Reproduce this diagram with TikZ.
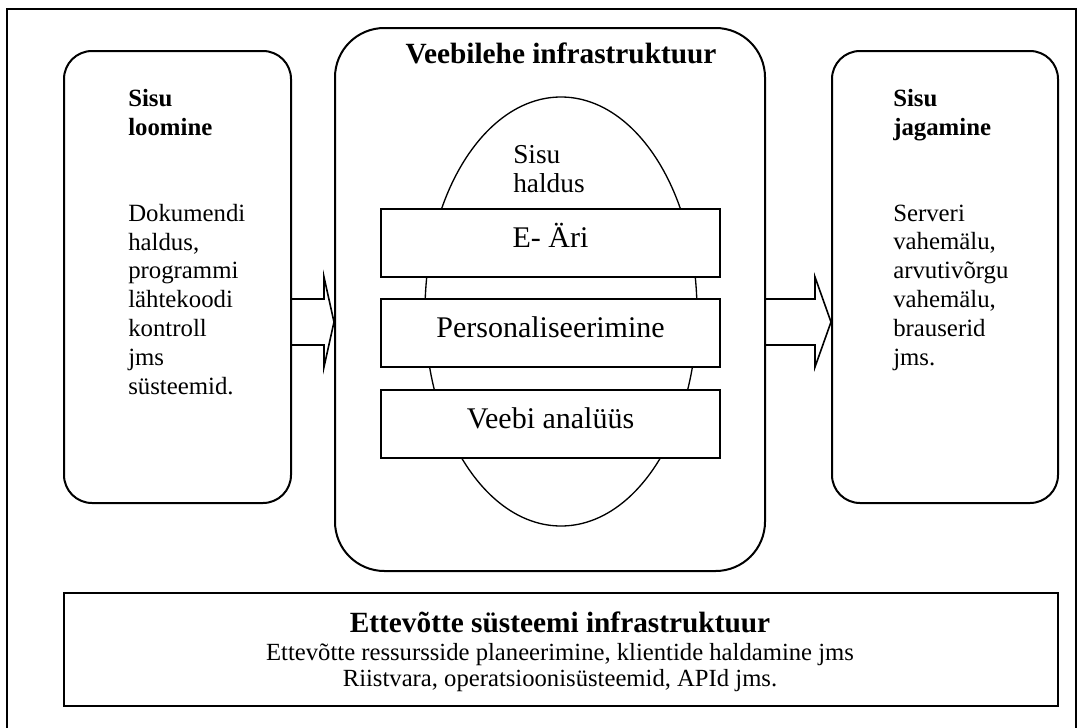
\documentclass[tikz,border=0pt]{standalone}
\usepackage{fontspec}
\setmainfont{Liberation Serif}
\usetikzlibrary{shapes.geometric,fit}
\begin{document}
\begin{tikzpicture}[x=0.75pt,y=-0.75pt,
  panel/.style={draw, line width=1.5pt, rounded corners=21pt, inner sep=0pt},
  webpanel/.style={draw, line width=1.5pt, rounded corners=37pt, inner sep=0pt},
  layer/.style={draw, line width=1.5pt, fill=white, minimum width=254.25pt,
    minimum height=51pt, inner sep=0pt, text height=12pt, text depth=6pt,
    font=\fontsize{22.5pt}{26pt}\selectfont},
  bodytext/.style={inner sep=0pt, align=left, font=\fontsize{18.6pt}{21.6pt}\selectfont},
  blockarrow/.style={draw, line width=1.2pt, line join=miter},
]
\useasboundingbox (0,0) rectangle (1083,728);
\clip (0,0) rectangle (1083,728);

% outer frame
\draw[line width=1pt] (7,9) rectangle (1076,760);

% the three columns
\node[panel, fit={(64,51) (291,503)}] (create) {};
\node[webpanel, fit={(335,28) (765,571)}] (web) {};
\node[panel, fit={(832,51) (1058,503)}] (deliver) {};

% column texts (base anchor sits on the last line)
\node[bodytext, anchor=base west] (createhead) at (128,135) {\bfseries Sisu\\\bfseries loomine};
\node[bodytext, anchor=base west] (createbody) at (128,394)
  {Dokumendi\\haldus,\\programmi\\lähtekoodi\\kontroll\\jms\\süsteemid.};
\node[bodytext, anchor=base west] (deliverhead) at (893,135) {\bfseries Sisu\\\bfseries jagamine};
\node[bodytext, anchor=base west] (deliverbody) at (893,365)
  {Serveri\\vahemälu,\\arvutivõrgu\\vahemälu,\\brauserid\\jms.};
\node[inner sep=0pt, anchor=base, font=\fontsize{22pt}{26pt}\selectfont\bfseries] (webhead)
  at (561,63) {Veebilehe infrastruktuur};

% content management ellipse with its layers
\node[ellipse, draw, line width=1pt, minimum width=204pt, minimum height=321.75pt,
  inner sep=0pt] (cms) at (561,311.5) {};
\node[bodytext, anchor=base west, font=\fontsize{20.5pt}{21.75pt}\selectfont] (cmstext)
  at (513,192) {Sisu\\haldus};
\node[layer] (ebiz) at (550.5,243) {E- Äri};
\node[layer] (perso) at (550.5,333) {Personaliseerimine};
\node[layer] (analytics) at (550.5,424) {Veebi analüüs};

% block arrows between the columns
\draw[blockarrow] (create.east |- 0,299) -- (324,299) -- (324,277)
  -- (web.west |- 0,322) -- (324,367) -- (324,345) -- (create.east |- 0,345);
\draw[blockarrow] (web.east |- 0,299) -- (815,299) -- (815,277)
  -- (deliver.west |- 0,322) -- (815,367) -- (815,345) -- (web.east |- 0,345);

% enterprise infrastructure
\node[draw, line width=2pt, fit={(64,593) (1058,706)}, inner sep=0pt] (enterprise) {};
\node[inner sep=0pt, anchor=base, font=\fontsize{22pt}{26pt}\selectfont\bfseries] (enthead)
  at (560,632) {Ettevõtte süsteemi infrastruktuur};
\node[inner sep=0pt, anchor=base, font=\fontsize{18.5pt}{22pt}\selectfont] (entline1)
  at (560,660) {Ettevõtte ressursside planeerimine, klientide haldamine jms};
\node[inner sep=0pt, anchor=base, font=\fontsize{18.5pt}{22pt}\selectfont] (entline2)
  at (560,686) {Riistvara, operatsioonisüsteemid, APId jms.};
\end{tikzpicture}
\end{document}
